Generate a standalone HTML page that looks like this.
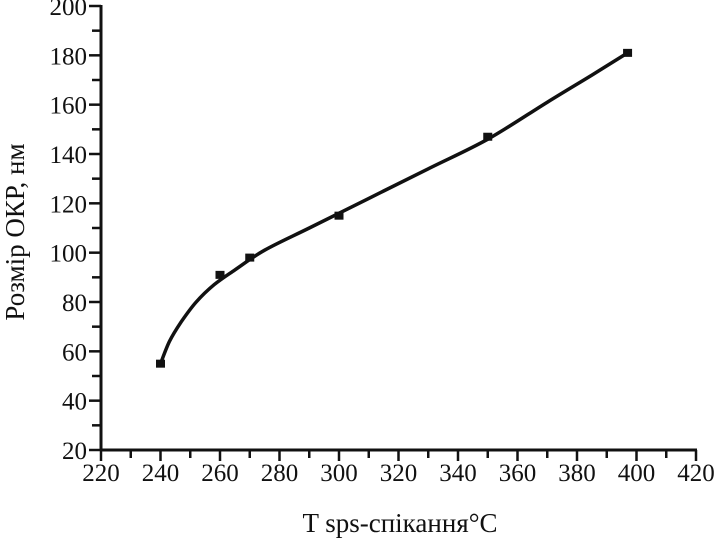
<!DOCTYPE html>
<html><head><meta charset="utf-8"><style>
body{margin:0;background:#fff}
svg{display:block}
text{font-family:"Liberation Serif",serif;fill:#111}
</style></head><body>
<svg id="c" width="721" height="542"></svg>
<script>
const xTicks=[220,240,260,280,300,320,340,360,380,400,420];
const yTicks=[20,40,60,80,100,120,140,160,180,200];
const pointsX=[240,260,270,300,350,397];
const pointsY=[55,91,98,115,147,181];
const curveX=[240,243,247,252,258,265,275,290,310,330,350,370,385,397];
const curveY=[55,64,72,80,87,93,101,110,122,134,146,161,172,181];
const NS='http://www.w3.org/2000/svg';
const svg=document.getElementById('c');
const X0=101,X1=696,Y0=450,Y1=6;
const sx=v=>X0+(v-220)/(420-220)*(X1-X0);
const sy=v=>Y0-(v-20)/(200-20)*(Y0-Y1);
function mk(t,a){const e=document.createElementNS(NS,t);for(const k in a)e.setAttribute(k,a[k]);svg.appendChild(e);return e;}
let e;
e=mk('line',{x1:X0,y1:Y0,x2:X1+1,y2:Y0,stroke:'#111','stroke-width':3});


e=mk('line',{x1:X0,y1:Y0+1,x2:X0,y2:Y1-1,stroke:'#111','stroke-width':3});


xTicks.forEach((v,i)=>{
  e=mk('line',{x1:sx(v),y1:Y0,x2:sx(v),y2:Y0+11,stroke:'#111','stroke-width':2.5});
  
  
  if(i<xTicks.length-1){
    e=mk('line',{x1:sx(v+10),y1:Y0,x2:sx(v+10),y2:Y0+8,stroke:'#111','stroke-width':2.5});
    
    
  }
  e=mk('text',{x:sx(v),y:481,'text-anchor':'middle','font-size':25});
  e.textContent=v;
  
  
});
yTicks.forEach((v,i)=>{
  e=mk('line',{x1:X0-12,y1:sy(v),x2:X0,y2:sy(v),stroke:'#111','stroke-width':2.5});
  
  
  if(i<yTicks.length-1){
    e=mk('line',{x1:X0-9,y1:sy(v+10),x2:X0,y2:sy(v+10),stroke:'#111','stroke-width':2.5});
    
    
  }
  e=mk('text',{x:X0-14,y:sy(v)+9,'text-anchor':'end','font-size':25});
  e.textContent=v;
  
  
});
const P=curveX.map((v,i)=>[sx(v),sy(curveY[i])]);
let d='M'+P[0][0].toFixed(1)+','+P[0][1].toFixed(1);
for(let i=0;i<P.length-1;i++){
  const p0=P[Math.max(0,i-1)],p1=P[i],p2=P[i+1],p3=P[Math.min(P.length-1,i+2)];
  const c1=[p1[0]+(p2[0]-p0[0])/6,p1[1]+(p2[1]-p0[1])/6];
  const c2=[p2[0]-(p3[0]-p1[0])/6,p2[1]-(p3[1]-p1[1])/6];
  d+='C'+c1.map(n=>n.toFixed(1)).join(',')+' '+c2.map(n=>n.toFixed(1)).join(',')+' '+p2.map(n=>n.toFixed(1)).join(',');
}
e=mk('path',{d:d,fill:'none',stroke:'#111','stroke-width':3.5,'stroke-linejoin':'round','stroke-linecap':'round'});


pointsX.forEach((v,i)=>{
  e=mk('rect',{x:sx(v)-4.5,y:sy(pointsY[i])-4,width:9,height:8,fill:'#111'});
  
  
});
e=mk('text',{x:400,y:532,'text-anchor':'middle','font-size':27});
e.textContent='T sps-спікання°C';


e=mk('text',{x:0,y:0,'text-anchor':'middle','font-size':27,transform:'translate(24,232) rotate(-90)'});
e.textContent='Розмір ОКР, нм';


</script>
</body></html>
